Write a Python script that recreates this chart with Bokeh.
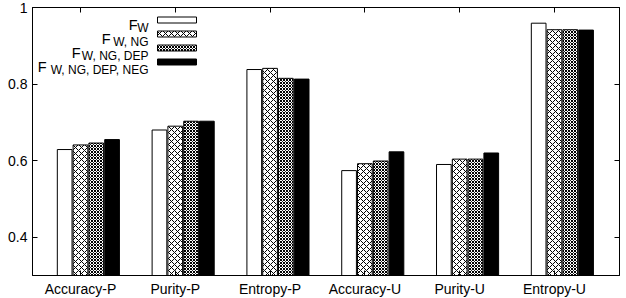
from bokeh.plotting import figure
from bokeh.models import FixedTicker, LinearAxis, Range1d, ColumnDataSource
from bokeh.core.properties import value
from bokeh.embed import file_html
from bokeh.resources import INLINE

# ---- data -------------------------------------------------------------
categories = ["Accuracy-P", "Purity-P", "Entropy-P", "Accuracy-U", "Purity-U", "Entropy-U"]
series_sub = ["W", "W, NG", "W, NG, DEP", "W, NG, DEP, NEG"]
f_w = [0.629, 0.680, 0.838, 0.574, 0.590, 0.959]
f_w_ng = [0.641, 0.690, 0.841, 0.592, 0.604, 0.942]
f_w_ng_dep = [0.646, 0.703, 0.815, 0.599, 0.604, 0.942]
f_w_ng_dep_neg = [0.655, 0.703, 0.813, 0.623, 0.620, 0.941]
y_ticks = [0.4, 0.6, 0.8, 1.0]

series = [f_w, f_w_ng, f_w_ng_dep, f_w_ng_dep_neg]

# ---- styles -----------------------------------------------------------
FONT = "Liberation Sans"
offsets = [-1 / 6, 0.0, 1 / 6, 2 / 6]
bar_w = 0.155
styles = [
    dict(fill_color="white", hatch_pattern=None),
    dict(fill_color="white", hatch_pattern="diagonal_cross", hatch_scale=6, hatch_weight=1, hatch_color="black"),
    dict(fill_color="white", hatch_pattern="diagonal_cross", hatch_scale=3, hatch_weight=1, hatch_color="black"),
    dict(fill_color="black", hatch_pattern=None),
]

X0, X1 = -0.506, 5.686
Y0, Y1 = 0.3, 1.0

p = figure(frame_width=587, frame_height=268,
           x_range=Range1d(X0, X1), y_range=Range1d(Y0, Y1),
           output_backend="svg", toolbar_location=None,
           x_axis_type=None, y_axis_type=None,
           min_border_left=32, min_border_right=2, min_border_top=7, min_border_bottom=0)
p.xgrid.visible = False
p.ygrid.visible = False
p.outline_line_color = "black"
p.outline_line_width = 1
p.background_fill_color = "white"
p.border_fill_color = "white"

# ---- axes -------------------------------------------------------------
def style_axis(ax, labels=True):
    ax.axis_line_color = "black"
    ax.major_tick_line_color = "black"
    ax.minor_tick_line_color = None
    ax.major_tick_in = 5
    ax.major_tick_out = 0
    if labels:
        ax.major_label_text_font = FONT
        ax.major_label_text_font_size = "14px"
        ax.major_label_text_color = "black"
    else:
        ax.major_label_text_font_size = "0px"
        ax.major_label_standoff = 0

xt = FixedTicker(ticks=list(range(len(categories))))
yt = FixedTicker(ticks=y_ticks)

xb = LinearAxis(ticker=xt)
style_axis(xb)
xb.major_label_overrides = {i: c for i, c in enumerate(categories)}
xb.major_label_standoff = 5
p.add_layout(xb, "below")

xa = LinearAxis(ticker=xt)
style_axis(xa, labels=False)
xa.major_label_overrides = {i: "" for i in range(len(categories))}
p.add_layout(xa, "above")

yl = LinearAxis(ticker=yt)
style_axis(yl)
yl.major_label_overrides = {1: "1", 1.0: "1"}
yl.major_label_standoff = 5
p.add_layout(yl, "left")

yr = LinearAxis(ticker=yt)
style_axis(yr, labels=False)
yr.major_label_overrides = {t: "" for t in y_ticks}
p.add_layout(yr, "right")

# ---- bars -------------------------------------------------------------
xs = list(range(len(categories)))
for vals, off, st in zip(series, offsets, styles):
    src = ColumnDataSource(dict(x=[x + off for x in xs], top=vals))
    kw = dict(st)
    if kw.get("hatch_pattern") is None:
        kw.pop("hatch_pattern")
    p.vbar(x="x", top="top", bottom=Y0, width=bar_w, source=src,
           line_color="black", line_width=1, **kw)

# ---- legend (layout positions in pixels, converted to data space) ------
PX_L, PX_R, PX_T, PX_B = 32.0, 619.0, 7.0, 275.0
def px2x(px):
    return X0 + (px - PX_L) / (PX_R - PX_L) * (X1 - X0)
def px2y(py):
    return Y1 - (py - PX_T) / (PX_B - PX_T) * (Y1 - Y0)

f_right = [137, 110, 80, 46]
sub_right = 148
box_l, box_r = 157, 196
for i, (st, sub) in enumerate(zip(styles, series_sub)):
    base = 24.5 + 14 * i
    cy = base - 5
    kw = dict(st)
    if kw.get("hatch_pattern") is None:
        kw.pop("hatch_pattern")
    p.quad(left=[px2x(box_l)], right=[px2x(box_r)], top=[px2y(cy - 3)], bottom=[px2y(cy + 3)],
           line_color="black", line_width=1, **kw)
    p.text(x=[px2x(f_right[i])], y=[px2y(base)], text=["F"], text_align="right",
           text_baseline="alphabetic", text_font=value(FONT), text_font_size="14.5px", text_color="black")
    p.text(x=[px2x(sub_right)], y=[px2y(base + 2.5)], text=[sub], text_align="right",
           text_baseline="alphabetic", text_font=value(FONT), text_font_size="12px", text_color="black")

open("out.html", "w").write(file_html(p, INLINE))
